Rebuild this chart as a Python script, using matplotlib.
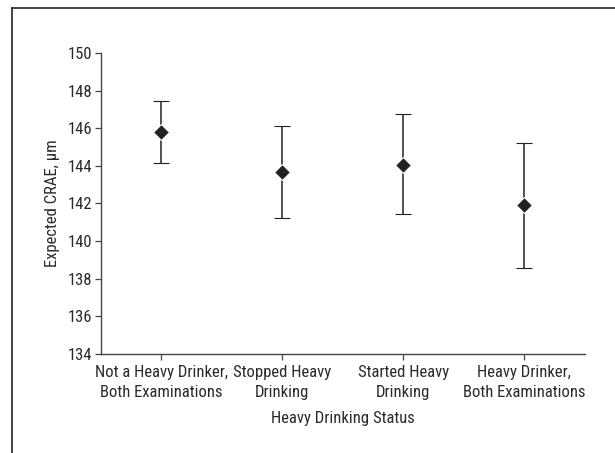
import matplotlib
matplotlib.use("Agg")
import matplotlib.pyplot as plt
from matplotlib.lines import Line2D

plt.rcParams["font.family"] = ["Roboto Condensed", "Archivo Narrow", "DejaVu Sans"]

categories = [
    "Not a Heavy Drinker,\nBoth Examinations",
    "Stopped Heavy\nDrinking",
    "Started Heavy\nDrinking",
    "Heavy Drinker,\nBoth Examinations",
]
crae_mean = [145.8, 143.65, 144.05, 141.93]
ci_lower = [144.17, 141.2, 141.42, 138.55]
ci_upper = [147.43, 146.14, 146.74, 145.22]
y_ticks = [134, 136, 138, 140, 142, 144, 146, 148, 150]

ink = "#222222"
text_color = "#2a2a2a"
axis_color = "#444444"
FS = 12

fig = plt.figure(figsize=(6.15, 4.53), dpi=100)
ax = fig.add_axes([0.164, 0.219, 0.787, 0.664])

x = list(range(len(categories)))
err_low = [m - lo for m, lo in zip(crae_mean, ci_lower)]
err_high = [hi - m for m, hi in zip(crae_mean, ci_upper)]
ax.errorbar(x, crae_mean, yerr=[err_low, err_high], fmt="D", color=ink,
            ecolor=ink, elinewidth=1.1, capsize=5.5, capthick=1.1,
            markersize=8.5, markeredgecolor="white", markeredgewidth=0.8)

ax.set_xlim(-0.5, 3.5)
ax.set_ylim(134, 150)
ax.set_yticks(y_ticks)
ax.set_xticks(x)
ax.set_xticklabels(categories, fontsize=FS, color=text_color, linespacing=1.45)
ax.tick_params(axis="y", labelsize=FS, labelcolor=text_color, length=4,
               width=0.9, color=axis_color, pad=2)
ax.tick_params(axis="x", length=4, width=0.9, color=axis_color, pad=4)

for side in ["top", "right"]:
    ax.spines[side].set_visible(False)
for side in ["left", "bottom"]:
    ax.spines[side].set_color(axis_color)
    ax.spines[side].set_linewidth(1.0)

ax.set_ylabel("Expected CRAE, µm", fontsize=FS, color=text_color, labelpad=6)
ax.set_xlabel("Heavy Drinking Status", fontsize=FS, color=text_color, labelpad=8)

# figure frame (left and top edges visible in the cropped original)
fig.add_artist(Line2D([12 / 615, 12 / 615], [0, 1 - 8 / 453], transform=fig.transFigure,
                      color="#333333", linewidth=1.3))
fig.add_artist(Line2D([12 / 615, 1], [1 - 8 / 453, 1 - 8 / 453], transform=fig.transFigure,
                      color="#333333", linewidth=1.3))

fig.savefig("out.png", dpi=100)
